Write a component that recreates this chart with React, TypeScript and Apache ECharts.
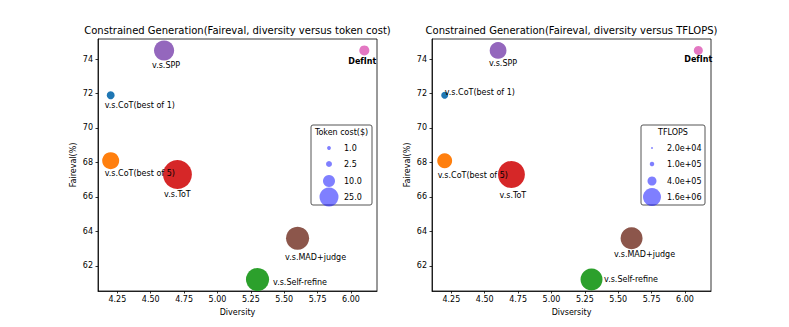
import React, { useEffect, useRef } from "react";
import * as echarts from "echarts";

const names = ["v.s.CoT(best of 1)", "v.s.CoT(best of 5)", "v.s.SPP", "v.s.ToT", "v.s.MAD+judge", "v.s.Self-refine", "DefInt"];
const diversity = [4.2, 4.2, 4.6, 4.7, 5.6, 5.3, 6.1];
const faireval = [71.9, 68.1, 74.5, 67.3, 63.6, 61.2, 74.5];
const tokenCost = [4.4, 20, 28, 58, 37, 37, 7];
const tflops = [2.4e5, 1.1e6, 1.4e6, 3.6e6, 2.4e6, 2.4e6, 4.0e5];
const colors = ["#1f77b4", "#ff7f0e", "#9467bd", "#d62728", "#8c564b", "#2ca02c", "#e377c2"];

const xTicks = [4.25, 4.5, 4.75, 5.0, 5.25, 5.5, 5.75, 6.0];
const yTicks = [62, 64, 66, 68, 70, 72, 74];

const costLegendValues = [1.0, 2.5, 10.0, 25.0];
const costLegendLabels = ["1.0", "2.5", "10.0", "25.0"];
const flopsLegendValues = [2e4, 1e5, 4e5, 1.6e6];
const flopsLegendLabels = ["2.0e+04", "1.0e+05", "4.0e+05", "1.6e+06"];

const titles = [
  "Constrained Generation(Faireval, diversity versus token cost)",
  "Constrained Generation(Faireval, diversity versus TFLOPS)",
];
const xNames = ["Diversity", "Divsersity"];
const yName = "Faireval(%)";
const legendTitles = ["Token cost($)", "TFLOPS"];

// label layout (styles, not data)
const leftLabelLayout: any[] = [
  { align: "left", offset: [-6, 10] },
  { align: "left", offset: [-6, 13] },
  { align: "center", offset: [2, 15] },
  { align: "center", offset: [0, 20.5] },
  { align: "center", offset: [18, 19] },
  { align: "left", offset: [15.5, 2.5] },
  { align: "center", offset: [-2, 11.5] },
];
const rightLabelLayout: any[] = [
  { align: "left", offset: [0, -3] },
  { align: "left", offset: [-7, 15] },
  { align: "center", offset: [5, 13.5] },
  { align: "center", offset: [1.5, 21.5] },
  { align: "center", offset: [13, 16] },
  { align: "left", offset: [12.5, -0.5] },
  { align: "center", offset: [0, 9.5] },
];

const FONT = "DejaVu Sans";
const FS = 8;
const TFS = 10;
const sizeCost = (v: number) => 3.8 * Math.sqrt(v);
const sizeFlops = (v: number) => 0.0142 * Math.sqrt(v);

const XMIN = 4.105, XMAX = 6.195, YMIN = 60.535, YMAX = 75.165;
const grids = [
  { left: 98, top: 39, width: 279, height: 252 },
  { left: 432, top: 39, width: 279, height: 252 },
];

function makeAxes(i: number) {
  const x = {
    type: "value", gridIndex: i, min: XMIN, max: XMAX,
    name: xNames[i], nameLocation: "middle", nameGap: 17,
    nameTextStyle: { fontFamily: FONT, fontSize: FS, color: "#000" },
    axisLine: { show: true, onZero: false, lineStyle: { color: "#000", width: 0.8 } },
    axisTick: { show: true, length: 2.5, customValues: xTicks, lineStyle: { color: "#000", width: 0.8 } },
    axisLabel: { show: true, margin: 4.5, customValues: xTicks, fontFamily: FONT, fontSize: FS, color: "#000",
      formatter: (v: number) => v.toFixed(2) },
    splitLine: { show: false },
  };
  const y = {
    type: "value", gridIndex: i, min: YMIN, max: YMAX,
    name: yName, nameLocation: "middle", nameGap: 21, nameRotate: 90,
    nameTextStyle: { fontFamily: FONT, fontSize: FS, color: "#000" },
    axisLine: { show: true, onZero: false, lineStyle: { color: "#000", width: 0.8 } },
    axisTick: { show: true, length: 2.5, customValues: yTicks, lineStyle: { color: "#000", width: 0.8 } },
    axisLabel: { show: true, margin: 5, customValues: yTicks, fontFamily: FONT, fontSize: FS, color: "#000",
      formatter: (v: number) => String(Math.round(v)) },
    splitLine: { show: false },
  };
  return { x, y };
}

function makeSeries(i: number, sizes: number[], sizeFn: (v: number) => number, layout: any[]) {
  return {
    type: "scatter", xAxisIndex: i, yAxisIndex: i, silent: true,
    emphasis: { disabled: true },
    data: diversity.map((d, k) => ({
      value: [d, faireval[k]],
      symbolSize: sizeFn(sizes[k]),
      itemStyle: { color: colors[k], opacity: 1 },
      label: {
        show: true, formatter: names[k], position: "inside",
        align: layout[k].align, verticalAlign: "middle", offset: layout[k].offset,
        fontFamily: FONT, fontSize: FS, color: "#000",
        fontWeight: k === 6 ? "bold" : "normal",
      },
    })),
  };
}

function legendGraphic(box: any, title: string, values: number[], labels: string[], sizeFn: (v: number) => number) {
  const els: any[] = [];
  els.push({
    type: "rect", shape: { x: box.x, y: box.y, width: box.w, height: box.h, r: 2 },
    style: { fill: "rgba(255,255,255,0.8)", stroke: "#555", lineWidth: 1 }, z: 10,
  });
  els.push({
    type: "text", x: box.x + box.w / 2, y: box.y + 7.5,
    style: { text: title, fontFamily: FONT, fontSize: FS, fill: "#000", align: "center", verticalAlign: "middle" }, z: 11,
  });
  const rows = [148, 164, 181, 197];
  values.forEach((v, k) => {
    els.push({
      type: "circle", shape: { cx: box.mx, cy: rows[k], r: sizeFn(v) / 2 },
      style: { fill: "rgba(0,0,255,0.5)" }, z: 11,
    });
    els.push({
      type: "text", x: box.lx, y: rows[k],
      style: { text: labels[k], fontFamily: FONT, fontSize: FS, fill: "#000", align: "left", verticalAlign: "middle" }, z: 11,
    });
  });
  return els;
}

export default function App() {
  const ref = useRef<HTMLDivElement>(null);
  useEffect(() => {
    document.body.style.margin = "0";
    const chart = echarts.init(ref.current!, null, { renderer: "svg" });
    const a0 = makeAxes(0);
    const a1 = makeAxes(1);
    const graphic: any[] = [
      { type: "text", x: 237.5, y: 30, style: { text: titles[0], fontFamily: FONT, fontSize: TFS, fill: "#000", align: "center", verticalAlign: "middle" } },
      { type: "text", x: 571.5, y: 30, style: { text: titles[1], fontFamily: FONT, fontSize: TFS, fill: "#000", align: "center", verticalAlign: "middle" } },
      ...legendGraphic({ x: 311, y: 125, w: 61, h: 80, mx: 329, lx: 344 }, legendTitles[0], costLegendValues, costLegendLabels, sizeCost),
      ...legendGraphic({ x: 641, y: 125, w: 64, h: 80, mx: 652, lx: 667 }, legendTitles[1], flopsLegendValues, flopsLegendLabels, sizeFlops),
    ];
    chart.setOption({
      animation: false,
      backgroundColor: "#fff",
      grid: grids.map((g) => ({ ...g, show: true, borderColor: "#000", borderWidth: 0.8, backgroundColor: "transparent" })),
      xAxis: [a0.x, a1.x],
      yAxis: [a0.y, a1.y],
      series: [
        makeSeries(0, tokenCost, sizeCost, leftLabelLayout),
        makeSeries(1, tflops, sizeFlops, rightLabelLayout),
      ],
      graphic,
    });
    return () => chart.dispose();
  }, []);
  return <div ref={ref} style={{ width: 789, height: 327, position: "absolute", left: 0, top: 0 }} />;
}
